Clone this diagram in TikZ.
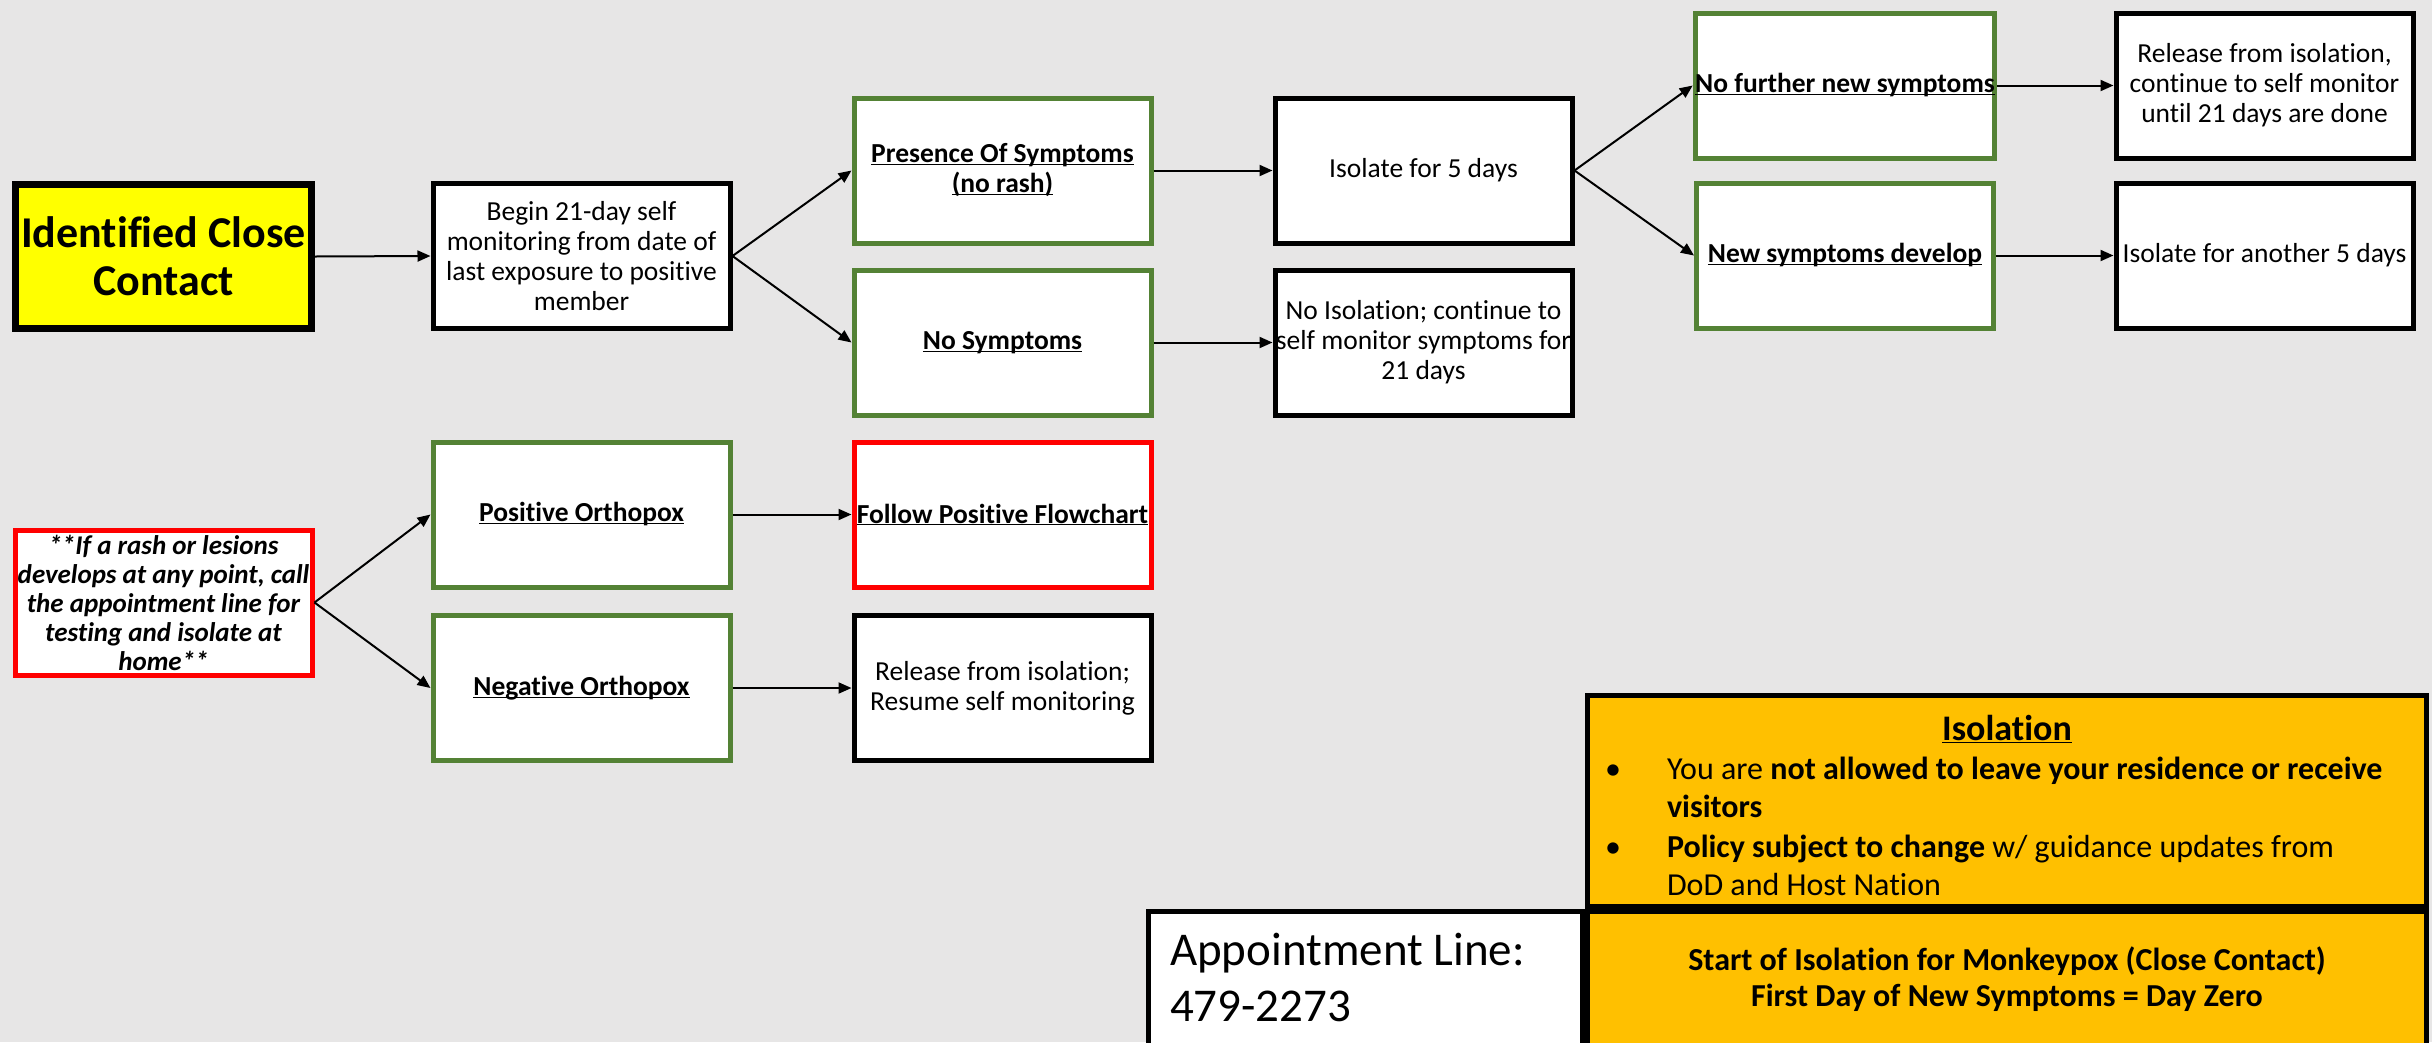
\documentclass[tikz,border=0pt]{standalone}
\usepackage{fontspec}
\setmainfont{Carlito}[Ligatures=NoCommon]
\usetikzlibrary{arrows.meta}
\definecolor{bgc}{HTML}{E7E6E6}
\definecolor{grn}{HTML}{548235}
\definecolor{yel}{HTML}{FFFF00}
\definecolor{gold}{HTML}{FFC000}
\definecolor{rd}{HTML}{FF0000}
\newcommand\ulx[1]{\underline{\smash{#1}}\vphantom{#1}}
\begin{document}
\begin{tikzpicture}[x=1pt,y=-1pt,
  bx/.style={draw=black, line width=5pt, fill=white, minimum width=297pt, minimum height=145pt,
    inner sep=0pt, align=center, font=\fontsize{27.5}{30}\selectfont},
  gbx/.style={bx, draw=grn},
  rbx/.style={bx, draw=rd},
  txt/.style={inner sep=0pt, outer sep=0pt},
  iline/.style={txt, anchor=base west, font=\fontsize{32}{38}\selectfont},
  arr/.style={-{Triangle[length=13pt,width=11pt]}, line width=2pt, black}]
\fill[bgc] (0,0) rectangle (2432,1042);
\useasboundingbox (0,0) rectangle (2432,1042);

% top flow
\node[bx, line width=7pt, fill=yel, minimum width=296pt, minimum height=144pt,
  font=\bfseries\fontsize{44}{48}\selectfont] (icc) at (163.5,256.5) {Identified Close\\Contact};
\node[bx] (begin) at (581.5,256) {Begin 21-day self\\monitoring from date of\\last exposure to positive\\member};
\node[gbx] (pres) at (1002.5,170.5) {\bfseries\ulx{Presence Of Symptoms}\\\bfseries\ulx{(no rash)}};
\node[gbx] (nosym) at (1002.5,342.5) {\bfseries\ulx{No Symptoms}};
\node[bx] (iso5) at (1423.5,170.5) {Isolate for 5 days};
\node[bx] (noiso) at (1423.5,342.5) {No Isolation; continue to\\self monitor symptoms for\\21 days};
\node[gbx] (nofur) at (1845,85.5) {\bfseries\ulx{No further new symptoms}};
\node[gbx] (newsym) at (1845,255.5) {\bfseries\ulx{New symptoms develop}};
\node[bx] (rel) at (2264.5,85.5) {Release from isolation,\\continue to self monitor\\until 21 days are done};
\node[bx] (iso5b) at (2264.5,255.5) {Isolate for another 5 days};

% rash flow
\node[rbx, font=\bfseries\itshape\fontsize{27}{29}\selectfont] (rash) at (163.5,602.5)
  {**If a rash or lesions\\develops at any point, call\\the appointment line for\\testing and isolate at\\home**};
\node[gbx] (pos) at (581.5,514.5) {\bfseries\ulx{Positive Orthopox}};
\node[gbx] (neg) at (581.5,688) {\bfseries\ulx{Negative Orthopox}};
\node[rbx] (follow) at (1002.5,514.5) {\bfseries\ulx{Follow Positive Flowchart}};
\node[bx] (relres) at (1002.5,688) {Release from isolation;\\Resume self monitoring};

% arrows
\draw[arr] (icc.east) -- (begin.west);
\draw[arr] (begin.east) -- (pres.west);
\draw[arr] (begin.east) -- (nosym.west);
\draw[arr] (pres.east) -- (iso5.west);
\draw[arr] (nosym.east) -- (noiso.west);
\draw[arr] (iso5.east) -- (nofur.west);
\draw[arr] (iso5.east) -- (newsym.west);
\draw[arr] (nofur.east) -- (rel.west);
\draw[arr] (newsym.east) -- (iso5b.west);
\draw[arr] (rash.east) -- (pos.west);
\draw[arr] (rash.east) -- (neg.west);
\draw[arr] (pos.east) -- (follow.west);
\draw[arr] (neg.east) -- (relres.west);

% bottom-right panels
\node[draw=black, line width=5pt, fill=gold, minimum width=839pt, minimum height=211pt, inner sep=0pt] (isol) at (2007,801) {};
\node[draw=black, line width=5pt, fill=gold, minimum width=839pt, minimum height=140pt, inner sep=0pt] (start) at (2007,981.5) {};
\node[draw=black, line width=5pt, fill=white, minimum width=434pt, minimum height=140pt, inner sep=0pt] (appt) at (1365.5,981.5) {};

\node[txt, font=\bfseries\fontsize{36}{40}\selectfont] (isohead) at (2007,729) {\ulx{Isolation}};
\node[txt, anchor=base, font=\fontsize{32}{38}\selectfont] (b1) at (1613,779) {•};
\node[iline] (t1a) at (1667,779) {You are \textbf{not allowed to leave your residence or receive}};
\node[iline] (t1b) at (1667,817) {\textbf{visitors}};
\node[txt, anchor=base, font=\fontsize{32}{38}\selectfont] (b2) at (1613,857) {•};
\node[iline] (t2a) at (1667,857) {\textbf{Policy subject to change} w/ guidance updates from};
\node[iline] (t2b) at (1667,895) {DoD and Host Nation};

\node[txt, align=center, font=\bfseries\fontsize{32}{36}\selectfont] (starttxt) at (2007,979.5)
  {Start of Isolation for Monkeypox (Close Contact)\\First Day of New Symptoms = Day Zero};
\node[txt, anchor=west, align=left, font=\fontsize{47}{56}\selectfont] (appttxt) at (1170,977)
  {Appointment Line:\\479-2273};
\end{tikzpicture}
\end{document}
